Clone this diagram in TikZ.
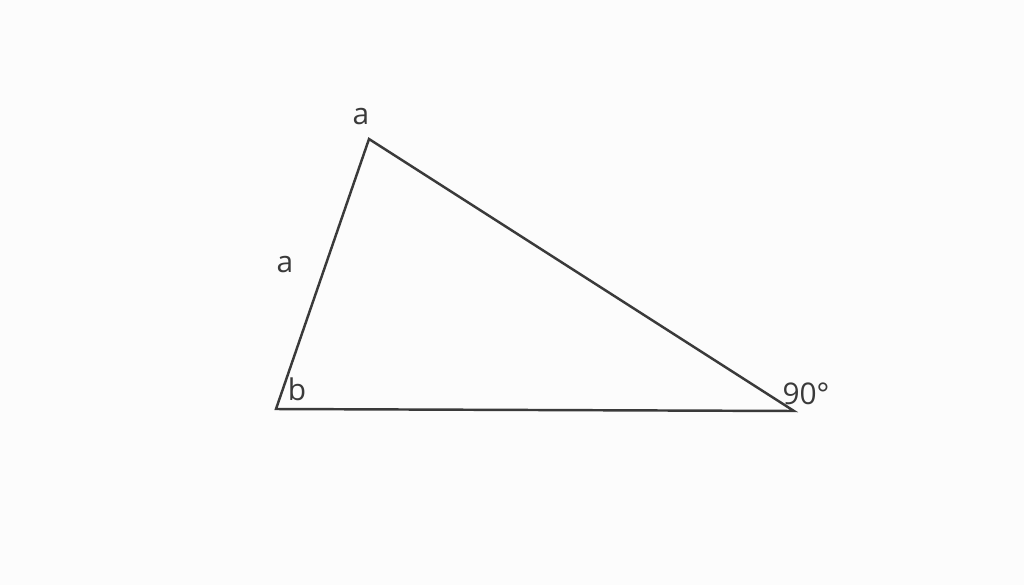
\documentclass[tikz,border=0pt]{standalone}
\usepackage{fontspec}
\setmainfont{Open Sans}
\usepackage{tikz}
\usetikzlibrary{calc}

\definecolor{inkgray}{HTML}{3A3A3A}
\definecolor{paper}{HTML}{FCFCFC}

\begin{document}
\begin{tikzpicture}[x=0.02cm,y=-0.02cm,
    lbl/.style={text=inkgray,inner sep=0pt,font=\fontsize{17}{20}\selectfont}]
    \fill[paper] (0,0) rectangle (1024,585);
    \useasboundingbox (0,0) rectangle (1024,585);
    \coordinate (T) at (369,139);
    \coordinate (L) at (276,409);
    \coordinate (R) at (794,411);
    \draw[inkgray,line width=1.4pt,line join=miter]
    (T) -- (L) -- (R) -- cycle;
    \node[lbl] (lt) at (361,117) {a};
    \node[lbl] (la) at (285,265) {a};
    \node[lbl] (lb) at (297,389) {b};
    \node[lbl] (lr) at (806,394) {90°};
  \end{tikzpicture}
\end{document}
